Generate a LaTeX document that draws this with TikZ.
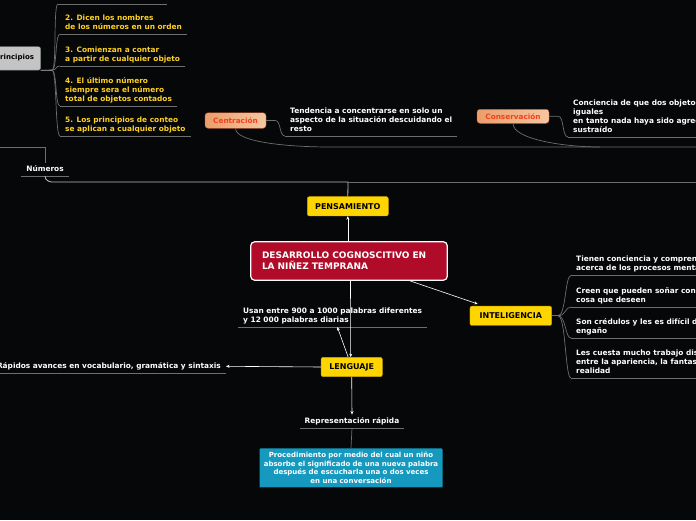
\documentclass[tikz,border=0pt]{standalone}
\usepackage{fontspec}
\setmainfont{DejaVu Sans}
\usetikzlibrary{calc,arrows.meta}
\definecolor{bgcol}{HTML}{060709}
\definecolor{boxyellow}{HTML}{FFD500}
\definecolor{boxyellowdark}{HTML}{C9A400}
\definecolor{leafyellow}{HTML}{FFD21F}
\definecolor{crimson}{HTML}{B00B29}
\definecolor{tealc}{HTML}{1599BF}
\definecolor{peachL}{HTML}{EC9D6C}
\definecolor{peachR}{HTML}{F6C6A0}
\definecolor{peachB}{HTML}{D65A26}
\definecolor{peachT}{HTML}{F2401A}
\definecolor{linegray}{HTML}{6E6E6E}
\definecolor{lightgray}{HTML}{BDBDBD}

\begin{document}
\begin{tikzpicture}[x=1pt,y=-1pt,
    leaf/.style={inner xsep=5pt,inner ysep=2pt,align=left,text=white,
        font=\fontsize{7.4}{9}\selectfont\bfseries,execute at end node=\strut},
    under/.style={draw=linegray,line width=.8pt},
    branch/.style={draw=linegray,line width=.7pt},
    lightline/.style={draw=lightgray,line width=.8pt},
    ybox/.style={fill=boxyellow,draw=boxyellowdark,rounded corners=2pt,
        minimum height=19.3pt,inner sep=0pt,text=black,font=\fontsize{8}{9.6}\selectfont\bfseries},
    pbox/.style={left color=peachL,right color=peachR,draw=peachB,rounded corners=3pt,
        inner sep=0pt,text=peachT,font=\fontsize{7.3}{8}\selectfont\bfseries},
    arr/.style={draw=white,line width=.6pt,-{Stealth[length=3.5pt,width=3pt]}}]
    \useasboundingbox (0,0) rectangle (696,520);
    \fill[bgcol] (0,0) rectangle (696,520);
    \clip (0,0) rectangle (696,520);

    % main topic and first level
    \node[fill=crimson,draw=white,line width=1.2pt,rounded corners=4pt,text=white,align=left,
        text width=174pt,inner xsep=11.3pt,minimum height=38.5pt,
        font=\fontsize{9}{11}\selectfont\bfseries] (main) at (349,261)
        {DESARROLLO COGNOSCITIVO EN\\LA NIÑEZ TEMPRANA};
    \node[ybox,minimum width=81pt] (pens) at (347.8,206.3) {PENSAMIENTO};
    \node[ybox,minimum width=81.7pt] (intel) at (510.8,315.8) {INTELIGENCIA};
    \node[ybox,minimum width=61.3pt] (leng) at (351.7,367) {LENGUAJE};

    % lenguaje
    \node[leaf,anchor=south west] (usan) at (238,327)
        {Usan entre 900 a 1000 palabras diferentes\\y 12 000 palabras diarias};
    \node[leaf,anchor=south east] (rapid) at (226,373)
        {Rápidos avances en vocabulario, gramática y sintaxis};
    \node[leaf,anchor=south] (repr) at (352,428) {Representación rápida};
    \node[fill=tealc,rounded corners=1pt,text=white,align=center,text width=180pt,
        inner xsep=1.5pt,minimum height=39pt,font=\fontsize{7}{8.7}\selectfont\bfseries]
        (proc) at (351,467.8)
        {Procedimiento por medio del cual un niño\\absorbe el significado de una nueva palabra\\después de escucharla una o dos veces\\en una conversación};
    \draw[black!70!gray,line width=1.5pt] (proc.south west) -- (proc.south east);

    % inteligencia
    \node[leaf,anchor=south west] (i1) at (571,275.5)
        {Tienen conciencia y comprensión\\acerca de los procesos mentales};
    \node[leaf,anchor=south west] (i2) at (571,307)
        {Creen que pueden soñar con cualquier\\cosa que deseen};
    \node[leaf,anchor=south west] (i3) at (571,338)
        {Son crédulos y les es difícil detectar el\\engaño};
    \node[leaf,anchor=south west] (i4) at (571,378)
        {Les cuesta mucho trabajo distinguir\\entre la apariencia, la fantasía y la\\realidad};

    % pensamiento
    \node[pbox,minimum width=61pt,minimum height=15.5pt] (centr) at (235.5,120.5) {Centración};
    \node[leaf,anchor=south west] (tend) at (285,136)
        {Tendencia a concentrarse en solo un\\aspecto de la situación descuidando el\\resto};
    \node[pbox,minimum width=72pt,minimum height=14pt] (cons) at (513,116.3) {Conservación};
    \node[leaf,anchor=south west] (conc) at (568,137)
        {Conciencia de que dos objetos son\\iguales\\en tanto nada haya sido agregado o\\sustraído};

    % numeros
    \node[leaf,anchor=south] (nums) at (45,176) {Números};
    \node[fill=lightgray!90!white,draw=gray,rounded corners=2pt,inner xsep=6.5pt,
        minimum height=23.4pt,text depth=3.5pt,font=\fontsize{7}{8}\selectfont\bfseries,
        anchor=east] (princ) at (40.7,58.4) {Principios};
    \node[leaf,text=leafyellow,anchor=south west] (p2) at (60,34)
        {2. Dicen los nombres\\de los números en un orden};
    \node[leaf,text=leafyellow,anchor=south west] (p3) at (60,66)
        {3. Comienzan a contar\\a partir de cualquier objeto};
    \node[leaf,text=leafyellow,anchor=south west] (p4) at (60,106)
        {4. El último número\\siempre sera el número\\total de objetos contados};
    \node[leaf,text=leafyellow,anchor=south west] (p5) at (60,136)
        {5. Los principios de conteo\\se aplican a cualquier objeto};
    \coordinate (p1) at (58,4);

    % underlines
    \foreach \n in {p2,p3,p4,p5,nums,tend,conc,usan,rapid,repr,i1,i2,i3,i4}
        \draw[under] (\n.south west) -- (\n.south east);
    \draw[under] (p1) -- ++(109,0);

    % branches
    \coordinate (pj) at (52,70.1);
    \draw[lightline] (princ.south east) -- (pj);
    \foreach \t in {p1,p2,p3,p4,p5}
        \draw[branch] (pj) .. controls +(5,0) and +(-5,0) .. (\t.south west);
    \coordinate (ij) at (558,315.8);
    \draw[branch] (intel.east) -- (ij);
    \foreach \t in {i1,i2,i3,i4}
        \draw[branch] (ij) .. controls +(8,0) and +(-6,0) .. (\t.south west);
    \draw[branch] (centr.east) -- ++(9,0) .. controls +(6,0) and +(-6,0) .. (tend.south west);
    \draw[branch] (cons.east) -- ++(9,0) .. controls +(6,0) and +(-6,0) .. (conc.south west);
    \draw[branch] (centr.south) .. controls +(0,14) and +(-40,0) .. (330,147) -- (696,147);
    \draw[branch] (cons.south) .. controls +(0,16) and +(-35,0) .. (600,147);

    % numeros and pensamiento
    \coordinate (jn) at (348,182);
    \draw[branch] (0,147) -| (nums.north);
    \draw[lightline] (nums.south) .. controls +(0,4) and +(-3,0) .. (52,182) -- (jn) -- (pens.north);
    \draw[branch] (jn) -- (696,182);

    % arrows
    \draw[arr] (main.north -| pens) -- (pens.south);
    \draw[arr] ($(main.south)+(61,0)$) -- ($(intel.north west)+(8,-2)$);
    \draw[arr] ($(main.south)+(1.5,0)$) -- ($(leng.north)+(-1,0)$);
    \draw[arr] ($(leng.north)+(-3.5,0)$) -- ($(usan.south west)!.525!(usan.south east)$);
    \draw[arr] (leng.west) -- (rapid.east);
    \draw[arr] (leng.south) -- (repr.north);
    \draw[branch] (repr.south) -- (proc.north);
\end{tikzpicture}
\end{document}
